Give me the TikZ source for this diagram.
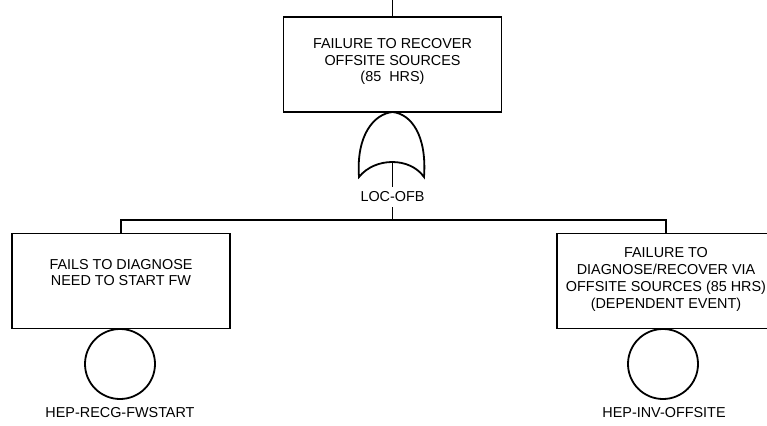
\documentclass[tikz,border=0pt]{standalone}
\usepackage{fontspec}
\setmainfont{Liberation Sans}
\begin{document}
\begin{tikzpicture}[x=1pt,y=-1pt,
  every node/.style={font=\fontsize{14.4}{16.8}\selectfont},
  ln/.style={line width=1.8pt},
  evbox/.style={draw,line width=1.8pt,minimum width=218pt,minimum height=95pt,inner sep=0pt},
  txt/.style={align=center,inner sep=0pt},
  basic/.style={draw,circle,line width=1.8pt,minimum size=70pt,inner sep=0pt},
  lbl/.style={inner sep=0pt}]
\useasboundingbox (0,0) rectangle (767,425);
\clip (0,0) rectangle (767,425);
% top event
\coordinate (topend) at (392.5,0);
\node[evbox] (top) at (392.5,64.5) {};
\node[txt] (toptxt) at (392.5,61.5) {FAILURE TO RECOVER\\OFFSITE SOURCES\\(85~~HRS)};
\draw[ln] (topend) -- (top.north);
% OR gate
\coordinate (gtop) at (392.5,112);
\coordinate (gbot) at (392.5,162);
\draw[ln] (359,177) .. controls (356,135) and (374,114) .. (gtop)
  .. controls (411,114) and (427,135) .. (424,177)
  .. controls (410,157) and (375,157) .. cycle;
\node[lbl,inner sep=5pt] (gl) at (392.5,197) {LOC-OFB};
\draw[ln] (gbot) -- (gl.north);
\coordinate (bus) at (392.5,220);
\draw[ln] (gl.south) -- (bus);
% children
\node[evbox] (lbox) at (121,281) {};
\node[txt] (ltxt) at (121,272.5) {FAILS TO DIAGNOSE\\NEED TO START FW};
\node[evbox] (rbox) at (666,281) {};
\node[txt] (rtxt) at (666,279.5) {FAILURE TO\\DIAGNOSE/RECOVER VIA\\OFFSITE SOURCES (85 HRS)\\(DEPENDENT EVENT)};
\draw[ln] (lbox.north) -- (lbox.north |- bus) -- (rbox.north |- bus) -- (rbox.north);
% basic events
\node[basic] (lc) at (120,364) {};
\node[lbl] (lcl) at (120,413) {HEP-RECG-FWSTART};
\node[basic] (rc) at (663,364) {};
\node[lbl] (rcl) at (664,413) {HEP-INV-OFFSITE};
\end{tikzpicture}
\end{document}
